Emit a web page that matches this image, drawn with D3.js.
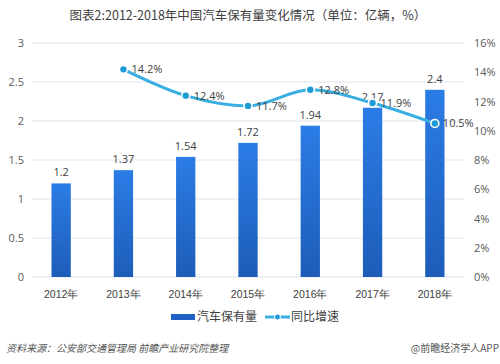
<!DOCTYPE html>
<html><head><meta charset="utf-8">
<script src="https://cdn.jsdelivr.net/npm/d3@7"></script>
<style>body{margin:0;background:#fff}svg{display:block;font-family:"Noto Sans CJK SC","Open Sans",sans-serif}</style>
</head><body>
<svg id="c" width="500" height="364"></svg>
<script>
const years = ["2012年","2013年","2014年","2015年","2016年","2017年","2018年"];
const stock = [1.2,1.37,1.54,1.72,1.94,2.17,2.4];
const growth = [null,14.2,12.4,11.7,12.8,11.9,10.5];
const leftTicks = [0,0.5,1,1.5,2,2.5,3];
const rightTicks = [0,2,4,6,8,10,12,14,16];
const title = "图表2:2012-2018年中国汽车保有量变化情况（单位：亿辆，%）";
const legendNames = ["汽车保有量","同比增速"];
const source = "资料来源：公安部交通管理局 前瞻产业研究院整理";
const credit = "@前瞻经济学人APP";

const svg = d3.select("#c");
const x = d3.scaleBand().domain(years).range([30,466]).paddingInner(0.69).paddingOuter(0.345);
const y = d3.scaleLinear().domain([0,3]).range([277,43]);
const y2 = d3.scaleLinear().domain([0,16]).range([277,43]);

const defs = svg.append("defs");
const g = defs.append("linearGradient").attr("id","bg").attr("x1",0).attr("y1",0).attr("x2",0).attr("y2",1);
g.append("stop").attr("offset","0%").attr("stop-color","#2b7ce6");
g.append("stop").attr("offset","100%").attr("stop-color","#1d5db8");

svg.append("text").attr("x",248).attr("y",20).attr("text-anchor","middle")
  .attr("font-size",12.5).attr("fill","#404040").text(title);

// grid
svg.append("g").selectAll("line").data(leftTicks).join("line")
  .attr("x1",32).attr("x2",464).attr("y1",d=>y(d)).attr("y2",d=>y(d))
  .attr("stroke","#dfe6ee").attr("stroke-width",1);

const la = svg.append("g").attr("transform","translate(24,0)")
  .call(d3.axisLeft(y).tickValues(leftTicks).tickSize(0).tickPadding(0).tickFormat(d3.format("")));
la.select(".domain").remove();
la.selectAll("text").attr("font-size",11).attr("fill","#595959").attr("font-family","Open Sans, sans-serif");

const ra = svg.append("g").attr("transform","translate(474,0)")
  .call(d3.axisRight(y2).tickValues(rightTicks).tickSize(0).tickPadding(0).tickFormat(d=>d+"%"));
ra.select(".domain").remove();
ra.selectAll("text").attr("font-size",11).attr("fill","#595959").attr("font-family","Open Sans, sans-serif");

const xa = svg.append("g").attr("transform","translate(0,277)")
  .call(d3.axisBottom(x).tickSize(0).tickPadding(14));
xa.select(".domain").remove();
xa.selectAll("text").attr("font-size",10.5).attr("fill","#404040");

svg.append("g").selectAll("rect").data(stock).join("rect")
  .attr("x",(d,i)=>x(years[i])).attr("width",x.bandwidth())
  .attr("y",d=>y(d)).attr("height",d=>y(0)-y(d)).attr("fill","url(#bg)");

svg.append("g").selectAll("text").data(stock).join("text")
  .attr("x",(d,i)=>x(years[i])+x.bandwidth()/2).attr("y",d=>y(d)-7)
  .attr("text-anchor","middle").attr("font-size",11).attr("fill","#404040")
  .attr("font-family","Open Sans, sans-serif").text(d=>d);

const pts = growth.map((v,i)=>({v,i})).filter(d=>d.v!=null);
const cx = d=>x(years[d.i])+x.bandwidth()/2;
svg.append("path").datum(pts)
  .attr("d",d3.line().x(cx).y(d=>y2(d.v)).curve(d3.curveMonotoneX))
  .attr("fill","none").attr("stroke","#3aaee2").attr("stroke-width",3);
svg.append("g").selectAll("circle").data(pts).join("circle")
  .attr("cx",cx).attr("cy",d=>y2(d.v)).attr("r",4)
  .attr("fill","#1e9ad6").attr("stroke","#fff").attr("stroke-width",1.6);
svg.append("g").selectAll("text").data(pts).join("text")
  .attr("x",d=>cx(d)+8).attr("y",d=>y2(d.v)+4)
  .attr("font-size",11).attr("fill","#404040").attr("font-family","Open Sans, sans-serif")
  .text(d=>d.v+"%");

// legend
const lg = svg.append("g");
lg.append("rect").attr("x",171).attr("y",314).attr("width",24).attr("height",6).attr("fill","#1f63c4");
lg.append("text").attr("x",197).attr("y",321).attr("font-size",12).attr("fill","#404040").text(legendNames[0]);
lg.append("line").attr("x1",265).attr("x2",290).attr("y1",317).attr("y2",317).attr("stroke","#3aaee2").attr("stroke-width",3);
lg.append("circle").attr("cx",277.5).attr("cy",317).attr("r",3).attr("fill","#1e9ad6").attr("stroke","#fff").attr("stroke-width",1);
lg.append("text").attr("x",291).attr("y",321).attr("font-size",12).attr("fill","#404040").text(legendNames[1]);

svg.append("text").attr("x",6).attr("y",352).attr("font-size",10).attr("font-style","italic")
  .attr("fill","#555").text(source);
svg.append("text").attr("x",499).attr("y",352).attr("text-anchor","end").attr("font-size",10)
  .attr("fill","#555").text(credit);
</script>
</body></html>
